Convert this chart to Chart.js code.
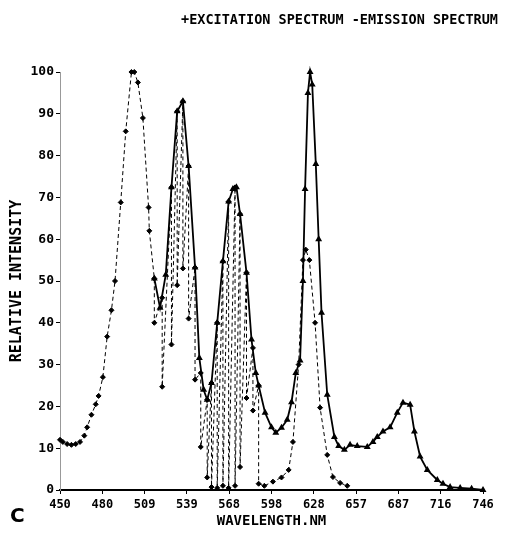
<!DOCTYPE html>
<html>
<head>
<meta charset="utf-8">
<script src="https://cdn.jsdelivr.net/npm/chart.js@4.4.0/dist/chart.umd.min.js"></script>
<style>
    body { margin: 0; background: #fff; }
    #wrap { position: relative; width: 507px; height: 535px; }
    #header { position: absolute; right: 9px; top: 11px; font: bold 13.5px "DejaVu Sans Mono", monospace; color: #000; white-space: pre; }
    #panel { position: absolute; left: 10px; top: 503px; font: bold 20px "DejaVu Sans"; color: #000; }
</style>
</head>
<body>
<div id="wrap">
    <canvas id="spectrumChart" width="507" height="535"></canvas>
    <div id="header">+EXCITATION SPECTRUM -EMISSION SPECTRUM</div>
    <div id="panel">C</div>
</div>
<script>
// excitation scan, in plotted order (the middle part zigzags between two readings)
const excitationNm = [450, 452, 455, 458, 461, 464, 467, 469, 472, 475, 477, 480, 483, 486, 488.5, 492.5, 496, 500, 502, 504.5, 508, 512, 512.5,
    516, 516, 521.5, 521.5, 528, 528, 532, 532, 536, 536, 540, 540, 544.5, 544.5, 548.5, 548.5, 553, 553, 556, 556,
    560, 560, 564, 564, 568, 568, 572.5, 572.5, 576, 576, 580.5, 580.5, 585, 585, 589, 589,
    593, 599, 605, 610, 613, 617, 620, 622, 624.5, 628.5, 632, 637, 641, 646, 651];
const excitationVal = [12, 11.5, 11, 10.8, 11, 11.5, 13, 15, 18, 20.5, 22.5, 27, 36.7, 43, 50, 68.8, 85.8, 100, 100, 97.5, 89, 67.6, 62,
    50.6, 40, 46, 24.7, 72.4, 34.8, 90.6, 49, 93, 53, 77.5, 41, 53.2, 26.4, 28, 10.3, 21.6, 3, 25.6, 0.7,
    40, 0.5, 54.7, 1, 69, 0.5, 72.4, 1, 66, 5.5, 52, 22, 34, 19, 25, 1.5,
    1, 2, 3, 4.8, 11.5, 30, 55, 57.5, 55, 40, 19.7, 8.4, 3.1, 1.7, 1];

// emission
const emissionNm = [516, 520, 524, 528, 532, 536, 540, 544.5, 547.5, 550.5, 553, 556, 560, 564, 568, 571, 573.5, 576, 580.5, 584,
    587, 589, 593.5, 598, 601, 605, 609, 612, 615, 618, 620, 621.5, 623.5, 625, 626.5, 629, 631, 633, 637, 642,
    645, 649, 653, 658, 665, 669, 672, 676, 681, 686, 690, 695, 698, 702, 707, 714, 718, 723, 730, 738, 746];
const emissionVal = [50.6, 43.6, 51.5, 72.4, 90.6, 93, 77.5, 53.2, 31.6, 24, 21.6, 25.6, 40, 54.7, 69, 72, 72.4, 66, 52, 36,
    28, 25, 18.5, 15, 13.7, 14.9, 16.8, 21, 28, 31, 50, 72, 95, 100, 97, 78, 60, 42.4, 22.8, 12.7,
    10.5, 9.6, 10.8, 10.5, 10.3, 11.5, 12.7, 14, 15, 18.5, 20.9, 20.4, 14, 8, 4.8, 2.4, 1.5, 0.7, 0.5, 0.3, 0];

const xTicks = [450, 479.6, 509.2, 538.8, 568.4, 598, 627.6, 657.2, 686.8, 716.4, 746];
const xTickLabels = ['450', '480', '509', '539', '568', '598', '628', '657', '687', '716', '746'];

const plotFont = "'DejaVu Sans Mono', monospace";

function toPoints(xs, ys) {
    return xs.map((x, i) => ({ x: x, y: ys[i] }));
}

const ctx = document.getElementById('spectrumChart').getContext('2d');
new Chart(ctx, {
    type: 'line',
    data: {
        datasets: [
            {
                label: 'EXCITATION SPECTRUM',
                data: toPoints(excitationNm, excitationVal),
                borderColor: '#000',
                backgroundColor: '#000',
                borderWidth: 1,
                borderDash: [4, 3],
                pointStyle: 'rectRot',
                pointRadius: 2.5,
                tension: 0,
                clip: 6
            },
            {
                label: 'EMISSION SPECTRUM',
                data: toPoints(emissionNm, emissionVal),
                borderColor: '#000',
                backgroundColor: '#000',
                borderWidth: 1.8,
                pointStyle: 'triangle',
                pointRadius: 2.2,
                tension: 0,
                clip: 6
            }
        ]
    },
    options: {
        responsive: false,
        animation: false,
        layout: { padding: { left: 8, right: 24, top: 72, bottom: 5 } },
        plugins: {
            legend: { display: false },
            tooltip: { enabled: false }
        },
        scales: {
            x: {
                type: 'linear',
                min: 450,
                max: 746,
                afterBuildTicks: axis => { axis.ticks = xTicks.map(v => ({ value: v })); },
                afterFit: axis => { axis.height = 40; },
                ticks: {
                    color: '#000',
                    padding: 4,
                    font: { family: plotFont, size: 12, weight: 'bold' },
                    callback: (value, index) => xTickLabels[index]
                },
                grid: { drawOnChartArea: false, tickLength: 4, color: '#000' },
                border: { display: true, color: '#000', width: 2 },
                title: {
                    display: true,
                    text: 'WAVELENGTH.NM',
                    color: '#000',
                    font: { family: plotFont, size: 14, weight: 'bold' },
                    padding: { top: 0, bottom: 0 }
                }
            },
            y: {
                min: 0,
                max: 100,
                afterFit: axis => { axis.width = 52; },
                ticks: {
                    stepSize: 10,
                    color: '#000',
                    padding: 2,
                    font: { family: plotFont, size: 13, weight: 'bold' }
                },
                grid: { drawOnChartArea: false, tickLength: 4, color: '#000' },
                border: { display: true, color: '#999', width: 1, dash: [2, 3] },
                title: {
                    display: true,
                    text: 'RELATIVE INTENSITY',
                    color: '#000',
                    font: { family: plotFont, size: 15, weight: 'bold' },
                    padding: { top: 0, bottom: 0 }
                }
            }
        }
    }
});
</script>
</body>
</html>
